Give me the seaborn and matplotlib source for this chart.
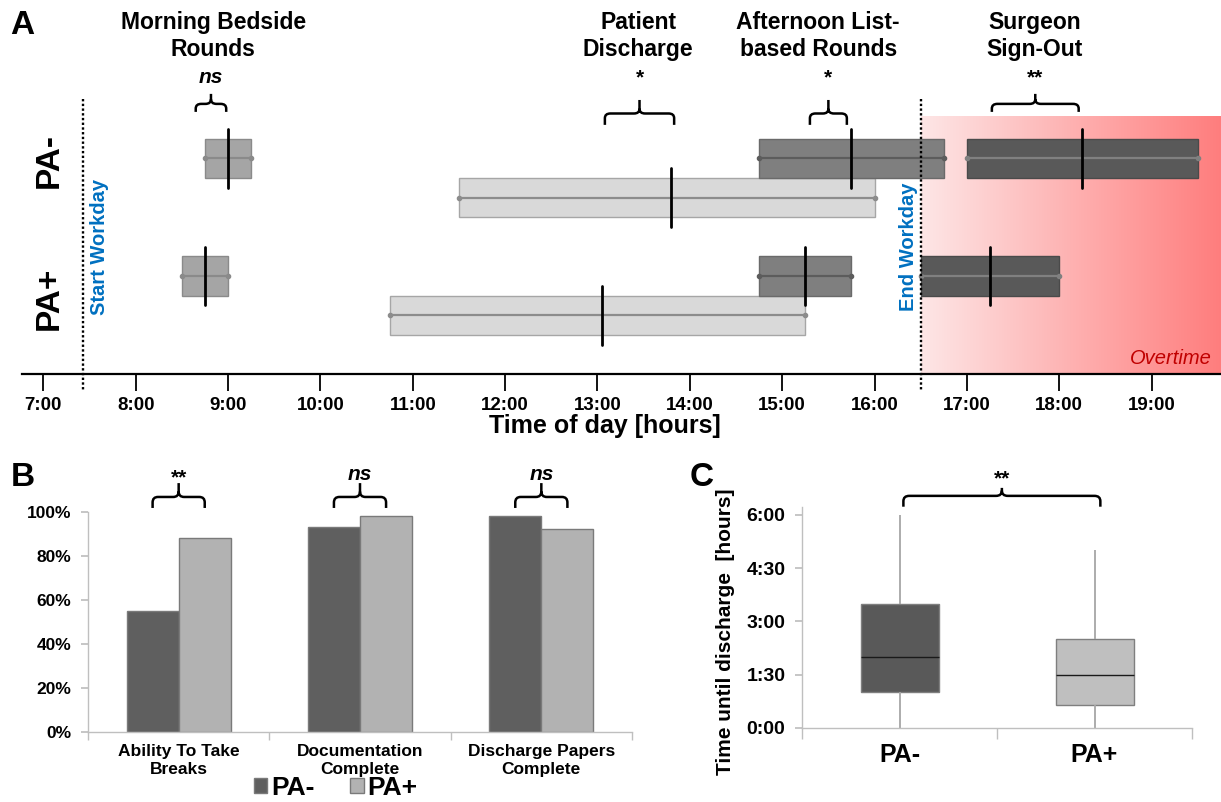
import numpy as np
import pandas as pd
import matplotlib
matplotlib.use("Agg")
import matplotlib.pyplot as plt
from matplotlib.colors import LinearSegmentedColormap
from matplotlib.path import Path
from matplotlib.patches import PathPatch
import seaborn as sns

# --- Panel A: when the daily activities happen (hour of day) ---
activities = ["Morning Bedside\nRounds", "Patient\nDischarge",
              "Afternoon List-\nbased Rounds", "Surgeon\nSign-Out"]
activity_sig = ["ns", "*", "*", "**"]
pa_minus_start = [8.75, 11.5, 14.75, 17.0]
pa_minus_end = [9.25, 16.0, 16.75, 19.5]
pa_minus_median = [9.0, 13.8, 15.75, 18.25]
pa_plus_start = [8.5, 10.75, 14.75, 16.5]
pa_plus_end = [9.0, 15.25, 15.75, 18.0]
pa_plus_median = [8.75, 13.05, 15.25, 17.25]
workday_start = 7.43
workday_end = 16.5
hours = list(range(7, 20))
hour_labels = [f"{h}:00" for h in hours]

# --- Panel B: share of shifts ---
tasks = ["Ability To Take\nBreaks", "Documentation\nComplete", "Discharge Papers\nComplete"]
tasks_pa_minus = [0.55, 0.93, 0.98]
tasks_pa_plus = [0.88, 0.98, 0.92]
tasks_sig = ["**", "ns", "ns"]
pct_ticks = [0, 0.2, 0.4, 0.6, 0.8, 1.0]
pct_labels = ["0%", "20%", "40%", "60%", "80%", "100%"]

# --- Panel C: time until discharge, five-number summary (hours) ---
groups = ["PA-", "PA+"]
discharge_pa_minus = [0.0, 1.0, 2.0, 3.5, 6.0]
discharge_pa_plus = [0.0, 0.65, 1.5, 2.5, 5.0]
time_ticks = [0, 1.5, 3, 4.5, 6]
time_labels = ["0:00", "1:30", "3:00", "4:30", "6:00"]

sns.set_theme(style="white")
plt.rcParams["font.family"] = ["Liberation Sans", "DejaVu Sans"]
plt.rcParams.update({"text.color": "black", "axes.labelcolor": "black",
                     "xtick.color": "black", "ytick.color": "black"})

W, H = 1221, 802
fig = plt.figure(figsize=(W / 100, H / 100), dpi=100)
GRID = "#bfbfbf"


def brace(ax, x0, x1, y_end, y_bar, y_tip, rx, ry, lw=1.8):
    d = np.sign(y_tip - y_bar)
    xc = (x0 + x1) / 2
    verts, codes = [], []
    for xe, s in ((x0, 1), (x1, -1)):
        verts += [(xe, y_end), (xe, y_bar - d * ry), (xe, y_bar), (xe + s * rx, y_bar),
                  (xc - s * rx, y_bar), (xc, y_bar), (xc, y_bar + d * ry)]
        codes += [Path.MOVETO, Path.LINETO, Path.CURVE3, Path.CURVE3,
                  Path.LINETO, Path.CURVE3, Path.CURVE3]
    verts += [(xc, y_bar + d * ry), (xc, y_tip)]
    codes += [Path.MOVETO, Path.LINETO]
    ax.add_patch(PathPatch(Path(verts, codes), facecolor="none", edgecolor="black",
                           lw=lw, clip_on=False, capstyle="butt"))


# ================= Panel A =================
axA = fig.add_axes([22 / W, 1 - 374 / H, 1199 / W, 374 / H])
x_lo, x_hi = 6.769, 19.751
fill_cols = ["#a5a5a5", "#d9d9d9", "#7f7f7f", "#595959"]
edge_cols = ["#8a8a8a", "#a6a6a6", "#6a6a6a", "#4a4a4a"]
whisk_cols = ["#8a8a8a", "#8c8c8c", "#5c5c5c", "#808080"]
row_shift = [0, 1, 0, 0]

ot_cmap = LinearSegmentedColormap.from_list("ot", ["#fde6e6", "#ff7d7d"])
axA.imshow(np.linspace(0, 1, 256).reshape(1, -1), cmap=ot_cmap, aspect="auto",
           extent=[workday_end, x_hi, 5.5, -1.06], zorder=0, interpolation="bilinear")

for i in range(len(activities)):
    for base, st, en, md in ((0, pa_minus_start, pa_minus_end, pa_minus_median),
                             (3, pa_plus_start, pa_plus_end, pa_plus_median)):
        y = base + row_shift[i]
        axA.barh(y, en[i] - st[i], left=st[i], height=1.0, color=fill_cols[i],
                 edgecolor=edge_cols[i], linewidth=1, zorder=3)
        axA.plot([st[i], en[i]], [y, y], color=whisk_cols[i], lw=1.6,
                 marker="o", ms=3, zorder=4)
        axA.plot([md[i], md[i]], [y - 0.75, y + 0.75], color="black", lw=2, zorder=6)

for xv in (workday_start, workday_end):
    axA.plot([xv, xv], [-1.52, 5.93], color="black", lw=1.7, ls=(0, (1, 1)),
             clip_on=False, zorder=7)

axA.set_xlim(x_lo, x_hi)
axA.set_ylim(5.5, -4.04)
for s in ("top", "right", "left"):
    axA.spines[s].set_visible(False)
axA.spines["bottom"].set_color("black")
axA.spines["bottom"].set_linewidth(1.6)
axA.set_yticks([])
axA.set_xticks(hours, hour_labels)
axA.tick_params(axis="x", direction="out", length=12.5, width=1.3, color="black",
                pad=4, labelsize=13.5, bottom=True)
for lbl in axA.get_xticklabels():
    lbl.set_fontweight("bold")
axA.set_xlabel("Time of day [hours]", fontsize=18, fontweight="bold")
axA.xaxis.set_label_coords(0.486, -0.108)

title_x = [8.84, 13.44, 15.39, 17.73]
brace_spans = [(8.65, 8.98), (13.08, 13.83), (15.30, 15.70), (17.27, 18.21)]
brace_levels = [(-1.186, -1.39, -1.645), (-0.855, -1.145, -1.49),
                (-0.855, -1.145, -1.49), (-1.186, -1.39, -1.645)]
for i, name in enumerate(activities):
    axA.text(title_x[i], -3.115, name, ha="center", va="center", fontsize=16.5,
             fontweight="bold", linespacing=1.22)
    x0, x1 = brace_spans[i]
    brace(axA, x0, x1, *brace_levels[i], rx=0.06, ry=0.12)
    axA.text((x0 + x1) / 2, -1.913, activity_sig[i], ha="center", va="baseline",
             fontsize=15, fontweight="bold",
             fontstyle="italic" if activity_sig[i] == "ns" else "normal")

axA.text(7.06, 0.06, "PA-", rotation=90, ha="center", va="center", fontsize=24, fontweight="bold")
axA.text(7.06, 3.56, "PA+", rotation=90, ha="center", va="center", fontsize=24, fontweight="bold")
axA.text(7.61, 2.27, "Start Workday", rotation=90, ha="center", va="center",
         fontsize=14.5, fontweight="bold", color="#0070c0")
axA.text(16.37, 2.26, "End Workday", rotation=90, ha="center", va="center",
         fontsize=14.5, fontweight="bold", color="#0070c0")
axA.text(19.65, 5.24, "Overtime", ha="right", va="baseline", fontsize=14.5,
         fontstyle="italic", color="#c00000")

# ================= Panel B =================
axB = fig.add_axes([88 / W, 1 - 731.7 / H, 544 / W, 220 / H])
df_b = pd.DataFrame({
    "task": tasks * 2,
    "group": ["PA-"] * len(tasks) + ["PA+"] * len(tasks),
    "share": tasks_pa_minus + tasks_pa_plus,
})
sns.barplot(data=df_b, x="task", y="share", hue="group",
            palette={"PA-": "#5f5f5f", "PA+": "#b2b2b2"}, width=0.575,
            edgecolor="#7a7a7a", linewidth=1, errorbar=None, ax=axB)
axB.set_xlim(-0.5, 2.5)
axB.set_ylim(0, 1)
axB.set_xlabel("")
axB.set_ylabel("")
axB.set_yticks(pct_ticks, pct_labels)
for s in ("top", "right"):
    axB.spines[s].set_visible(False)
for s in ("left", "bottom"):
    axB.spines[s].set_color(GRID)
    axB.spines[s].set_linewidth(1)
axB.tick_params(axis="y", left=True, length=5, color=GRID, pad=7, labelsize=12.5)
axB.tick_params(axis="x", which="major", length=0, pad=9, labelsize=12.5)
axB.set_xticks([-0.5, 0.5, 1.5, 2.5], minor=True)
axB.tick_params(axis="x", which="minor", bottom=True, length=6, color=GRID)
for lbl in axB.get_xticklabels() + axB.get_yticklabels():
    lbl.set_fontweight("bold")

for i, sig in enumerate(tasks_sig):
    brace(axB, i - 0.14375, i + 0.14375, 1.017, 1.067, 1.13, rx=0.03, ry=0.025)
    if sig == "ns":
        axB.text(i, 1.144, sig, ha="center", va="baseline", fontsize=15,
                 fontweight="bold", fontstyle="italic", clip_on=False)
    else:
        axB.text(i, 1.128, sig, ha="center", va="baseline", fontsize=15,
                 fontweight="bold", clip_on=False)

handles, labels = axB.get_legend_handles_labels()
axB.legend(handles, labels, loc="center", bbox_to_anchor=(336 / W, 1 - 788 / H),
           bbox_transform=fig.transFigure, ncol=2, frameon=False,
           prop={"weight": "bold", "size": 19}, handlelength=0.5, handleheight=0.5,
           handletextpad=0.15, columnspacing=1.35, borderpad=0)

# ================= Panel C =================
axC = fig.add_axes([802 / W, 1 - 728 / H, 390 / W, 221.3 / H])
df_c = pd.DataFrame({
    "group": [groups[0]] * len(discharge_pa_minus) + [groups[1]] * len(discharge_pa_plus),
    "hours": discharge_pa_minus + discharge_pa_plus,
})
sns.boxplot(data=df_c, x="group", y="hours", hue="group",
            palette={"PA-": "#595959", "PA+": "#bfbfbf"}, width=0.4,
            showcaps=False, linecolor="#7f7f7f", linewidth=1,
            whiskerprops={"color": "#a6a6a6", "linewidth": 1.3},
            medianprops={"color": "#1a1a1a", "linewidth": 1},
            legend=False, ax=axC)
axC.set_xlim(-0.5, 1.5)
axC.set_ylim(0, 6.23)
axC.set_yticks(time_ticks, time_labels)
axC.set_xlabel("")
axC.set_ylabel("Time until discharge  [hours]", fontsize=15, fontweight="bold")
axC.yaxis.set_label_coords(-0.172, 0.434)
for s in ("top", "right"):
    axC.spines[s].set_visible(False)
for s in ("left", "bottom"):
    axC.spines[s].set_color(GRID)
    axC.spines[s].set_linewidth(1)
axC.tick_params(axis="y", left=True, length=5, color=GRID, pad=7, labelsize=14)
axC.tick_params(axis="x", which="major", length=0, pad=11, labelsize=18)
axC.set_xticks([-0.5, 0.5, 1.5], minor=True)
axC.tick_params(axis="x", which="minor", bottom=True, length=8, color=GRID)
for lbl in axC.get_xticklabels() + axC.get_yticklabels():
    lbl.set_fontweight("bold")

brace(axC, 0.02, 1.03, 6.23, 6.535, 6.76, rx=0.03, ry=0.15)
axC.text(0.525, 6.87, "**", ha="center", va="baseline", fontsize=15,
         fontweight="bold", clip_on=False)

# panel letters
for letter, px, py in (("A", 22.5, 25), ("B", 23, 478), ("C", 702, 478)):
    fig.text(px / W, 1 - py / H, letter, ha="center", va="center",
             fontsize=24, fontweight="bold")

fig.savefig("out.png", dpi=100)
